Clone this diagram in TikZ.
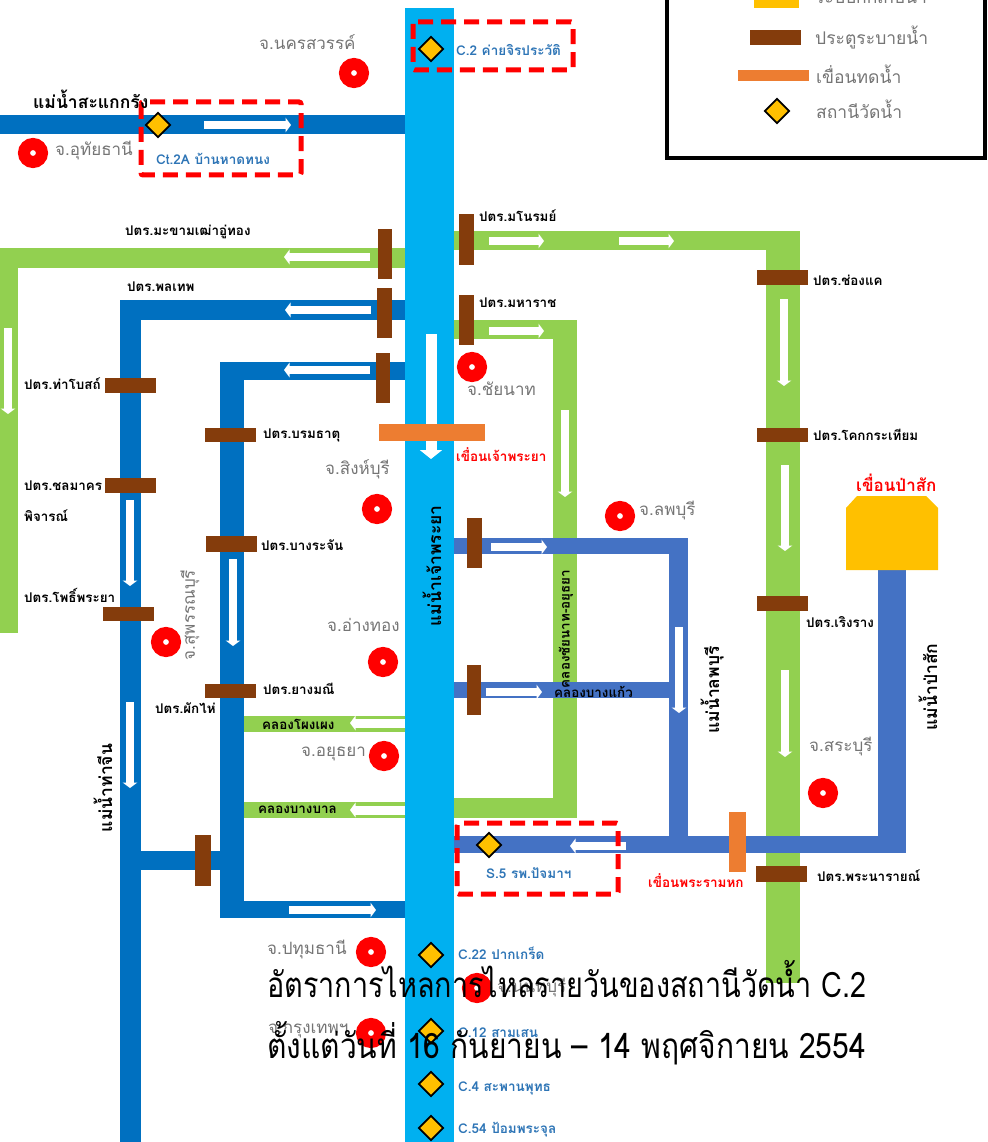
\documentclass[tikz,border=0pt]{standalone}
\usepackage{xcolor}
\usepackage{fontspec}
\usepackage{tikz}
\usetikzlibrary{arrows.meta,shapes.geometric}
\newfontfamily\thaifont[Script=Thai]{Loma}
\newfontfamily\thaititle[Script=Thai,FakeStretch=0.822]{Loma}
\newfontfamily\thaisubtitle[Script=Thai,FakeStretch=0.856]{Loma}
\definecolor{riverblue}{HTML}{00B0F0}
\definecolor{canalblue}{HTML}{0070C0}
\definecolor{lopburiblue}{HTML}{4472C4}
\definecolor{canalgreen}{HTML}{92D050}
\definecolor{gatebrown}{HTML}{843C0C}
\definecolor{damorange}{HTML}{ED7D31}
\definecolor{storeyellow}{HTML}{FFC000}
\definecolor{graymuted}{HTML}{757575}
\definecolor{stationblue}{HTML}{2E75B6}
\tikzset{every node/.append style={font=\thaifont,inner sep=0pt,anchor=west}}
\tikzset{
  flowarrow/.style={white,line width=7.5pt,-{Triangle[length=5.5pt,width=14.5pt]}},
  gatelabel/.style={black,font=\thaifont\bfseries\fontsize{13.4}{15}\selectfont},
  riverlabel/.style={black,font=\thaifont\bfseries\fontsize{17.5}{20}\selectfont},
  provincelabel/.style={graymuted,font=\thaifont\fontsize{17}{20}\selectfont},
  stationlabel/.style={stationblue,font=\thaifont\bfseries\fontsize{13.5}{15}\selectfont},
  damlabel/.style={red,font=\thaifont\bfseries\fontsize{13.5}{15}\selectfont},
  legendlabel/.style={graymuted,font=\thaifont\fontsize{17.5}{20}\selectfont},
  titlelabel/.style={black,anchor=base west,font=\thaititle\fontsize{35}{40}\selectfont},
  subtitlelabel/.style={black,anchor=base west,font=\thaisubtitle\fontsize{35}{40}\selectfont},
  stationmark/.style={diamond,draw=black,fill=storeyellow,line width=1.7pt,minimum size=25pt,anchor=center},
  provincedot/.style={circle,draw=red,line width=12pt,fill=white,minimum size=18pt,anchor=center},
  watchbox/.style={draw=red,line width=5pt,dash pattern=on 15pt off 8pt,rounded corners=2pt}
}

\begin{document}
\begin{tikzpicture}[x=1pt,y=-1pt,>=Stealth]
  \useasboundingbox (0,0) rectangle (987,1142);
  \clip (0,0) rectangle (987,1142);
  \fill[canalgreen] (0,248) rectangle (405,268);
  \fill[canalgreen] (0,248) rectangle (18,633);
  \fill[canalgreen] (454,231) rectangle (800,250);
  \fill[canalgreen] (766,231) rectangle (800,983);
  \fill[canalgreen] (454,320) rectangle (577,339);
  \fill[canalgreen] (553,320) rectangle (577,818);
  \fill[canalgreen] (454,798) rectangle (577,818);
  \fill[canalgreen] (244,716) rectangle (405,732);
  \fill[canalgreen] (244,802) rectangle (405,818);
  \fill[canalblue] (0,115) rectangle (405,134);
  \fill[canalblue] (120,300) rectangle (405,320);
  \fill[canalblue] (120,300) rectangle (141,1142);
  \fill[canalblue] (220,362) rectangle (405,380);
  \fill[canalblue] (220,362) rectangle (244,918);
  \fill[canalblue] (220,901) rectangle (405,918);
  \fill[canalblue] (141,851) rectangle (220,870);
  \fill[lopburiblue] (454,538) rectangle (688,554);
  \fill[lopburiblue] (669,538) rectangle (688,853);
  \fill[lopburiblue] (454,682) rectangle (669,698);
  \fill[lopburiblue] (454,836) rectangle (906,853);
  \fill[lopburiblue] (878,570) rectangle (906,853);
  \fill[riverblue] (405,8) rectangle (454,1142);
  \fill[storeyellow] (846,508)--(857,496)--(926,496)--(938,508)--(938,570)--(846,570)--cycle;

  \draw[flowarrow] (204,125)--(291,125);
  \draw[flowarrow] (370,257)--(284,257);
  \draw[flowarrow] (371,310)--(285,310);
  \draw[flowarrow] (370,370)--(284,370);
  \draw[flowarrow] (8,328)--(8,414);
  \draw[flowarrow,line width=11pt,-{Triangle[length=9pt,width=22pt]}] (431,334)--(431,459);
  \draw[flowarrow] (130,500)--(130,586);
  \draw[flowarrow] (233,559)--(233,646);
  \draw[flowarrow] (130,702)--(130,788);
  \draw[flowarrow,line width=9pt] (405,723)--(350,723);
  \draw[flowarrow,line width=9pt] (405,810)--(350,810);
  \draw[flowarrow] (289,910)--(376,910);
  \draw[flowarrow] (489,241)--(544,241);
  \draw[flowarrow] (619,241)--(674,241);
  \draw[flowarrow] (784,299)--(784,386);
  \draw[flowarrow] (489,331)--(544,331);
  \draw[flowarrow] (565,410)--(565,497);
  \draw[flowarrow] (785,465)--(785,551);
  \draw[flowarrow] (785,670)--(785,757);
  \draw[flowarrow] (491,547)--(547,547);
  \draw[flowarrow] (486,692)--(542,692);
  \draw[flowarrow] (679,627)--(679,713);
  \draw[flowarrow] (626,846)--(570,846);

  \fill[gatebrown] (378,229) rectangle (392,279);
  \fill[gatebrown] (377,288) rectangle (392,338);
  \fill[gatebrown] (376,353) rectangle (390,403);
  \fill[gatebrown] (459,214) rectangle (474,265);
  \fill[gatebrown] (459,295) rectangle (474,345);
  \fill[gatebrown] (105,378) rectangle (156,393);
  \fill[gatebrown] (105,478) rectangle (156,493);
  \fill[gatebrown] (103,607) rectangle (154,621);
  \fill[gatebrown] (205,428) rectangle (256,442);
  \fill[gatebrown] (206,536) rectangle (257,552);
  \fill[gatebrown] (205,684) rectangle (256,698);
  \fill[gatebrown] (195,835) rectangle (211,886);
  \fill[gatebrown] (757,270) rectangle (808,285);
  \fill[gatebrown] (757,428) rectangle (808,442);
  \fill[gatebrown] (757,596) rectangle (808,611);
  \fill[gatebrown] (756,866) rectangle (807,882);
  \fill[gatebrown] (467,518) rectangle (482,568);
  \fill[gatebrown] (467,665) rectangle (481,715);
  \fill[damorange] (379,424) rectangle (485,441);
  \fill[damorange] (729,812) rectangle (746,872);

  \node[provincedot] (dotNakhonSawan) at (354,73) {};
  \node[provincedot] (dotUthai) at (33,153) {};
  \node[provincedot] (dotChainat) at (472,367) {};
  \node[provincedot] (dotSingBuri) at (377,509) {};
  \node[provincedot] (dotSuphan) at (166,642) {};
  \node[provincedot] (dotAngThong) at (383,662) {};
  \node[provincedot] (dotAyutthaya) at (384,756) {};
  \node[provincedot] (dotLopburi) at (620,516) {};
  \node[provincedot] (dotSaraburi) at (823,793) {};
  \node[provincedot] (dotPathum) at (371,952) {};
  \node[provincedot] (dotNonthaburi) at (477,988) {};
  \node[provincedot] (dotBangkok) at (371,1033) {};

  \node[stationmark] (stnCtTwoA) at (158,125) {};
  \node[stationmark] (stnCTwo) at (431,49) {};
  \node[stationmark] (stnSFive) at (489,845) {};
  \node[stationmark] (stnCTwentyTwo) at (431,955) {};
  \node[stationmark] (stnCTwelve) at (431,1031) {};
  \node[stationmark] (stnCFour) at (431,1084) {};
  \node[stationmark] (stnCFiftyFour) at (431,1128) {};

  \draw[watchbox] (141,102) rectangle (301,175);
  \draw[watchbox] (413,22) rectangle (573,70);
  \draw[watchbox] (457,823) rectangle (618,894);

  \draw[black,line width=4pt] (667,-10) rectangle (985,158);
  \fill[storeyellow] (754,-10) rectangle (799,8);
  \fill[gatebrown] (750,30) rectangle (801,45);
  \fill[damorange] (738,70) rectangle (809,81);
  \node[stationmark] (legendStation) at (777,111) {};
  \node[legendlabel] (legendStore) at (815,-6) {ระบบกักเก็บน้ำ};
  \node[legendlabel] (legendGate) at (815,38) {ประตูระบายน้ำ};
  \node[legendlabel] (legendDam) at (816,74) {เขื่อนทดน้ำ};
  \node[legendlabel] (legendGauge) at (816,109) {สถานีวัดน้ำ};

  \node[riverlabel] (rvSakae) at (33,99) {แม่น้ำสะแกกรัง};
  \node[riverlabel,rotate=90,anchor=center] (rvChaoPhraya) at (432,566) {แม่น้ำเจ้าพระยา};
  \node[riverlabel,rotate=90,anchor=center] (rvThaChin) at (103,788) {แม่น้ำท่าจีน};
  \node[riverlabel,rotate=90,anchor=center] (rvLopburi) at (712,690) {แม่น้ำลพบุรี};
  \node[riverlabel,rotate=90,anchor=center] (rvPaSak) at (928,687) {แม่น้ำป่าสัก};

  \node[provincelabel] (lblNakhonSawan) at (259,42) {จ.นครสวรรค์};
  \node[provincelabel] (lblUthai) at (55,151) {จ.อุทัยธานี};
  \node[provincelabel] (lblChainat) at (467,389) {จ.ชัยนาท};
  \node[provincelabel] (lblSingBuri) at (325,469) {จ.สิงห์บุรี};
  \node[provincelabel,rotate=90,anchor=center] (lblSuphan) at (190,615) {จ.สุพรรณบุรี};
  \node[provincelabel] (lblAngThong) at (327,625) {จ.อ่างทอง};
  \node[provincelabel] (lblAyutthaya) at (301,754) {จ.อยุธยา};
  \node[provincelabel] (lblLopburi) at (639,511) {จ.ลพบุรี};
  \node[provincelabel] (lblSaraburi) at (809,747) {จ.สระบุรี};
  \node[provincelabel] (lblPathum) at (267,950) {จ.ปทุมธานี};
  \node[provincelabel] (lblNonthaburi) at (497,988) {จ.นนทบุรี};
  \node[provincelabel] (lblBangkok) at (268,1031) {จ.กรุงเทพฯ};

  \node[gatelabel] (gtMakham) at (125,232) {ปตร.มะขามเฒ่าอู่ทอง};
  \node[gatelabel] (gtPhonlathep) at (127,287) {ปตร.พลเทพ};
  \node[gatelabel] (gtThaBot) at (24,384) {ปตร.ท่าโบสถ์};
  \node[gatelabel] (gtChonlamak) at (24,486) {ปตร.ชลมาคร};
  \node[gatelabel] (gtPhijan) at (24,516) {พิจารณ์};
  \node[gatelabel] (gtPhoPhraya) at (24,595) {ปตร.โพธิ์พระยา};
  \node[gatelabel] (gtBorommathat) at (263,435) {ปตร.บรมธาตุ};
  \node[gatelabel] (gtBangRachan) at (261,545) {ปตร.บางระจัน};
  \node[gatelabel] (gtYangManee) at (263,689) {ปตร.ยางมณี};
  \node[gatelabel] (gtPhakHai) at (155,708) {ปตร.ผักไห่};
  \node[gatelabel] (gtManorom) at (479,216) {ปตร.มโนรมย์};
  \node[gatelabel] (gtMaharat) at (479,303) {ปตร.มหาราช};
  \node[gatelabel] (gtChongKhae) at (813,280) {ปตร.ช่องแค};
  \node[gatelabel] (gtKhok) at (813,435) {ปตร.โคกกระเทียม};
  \node[gatelabel] (gtRoengRang) at (806,622) {ปตร.เริงราง};
  \node[gatelabel] (gtNarai) at (817,876) {ปตร.พระนารายณ์};
  \node[gatelabel] (clPhongPheng) at (262,724) {คลองโผงเผง};
  \node[gatelabel] (clBangBan) at (258,810) {คลองบางบาล};
  \node[gatelabel] (clBangKaeo) at (554,692) {คลองบางแก้ว};
  \node[gatelabel,rotate=90,anchor=center] (clChainat) at (566,629) {คลองชัยนาท-อยุธยา};

  \node[damlabel] (dmChaoPhraya) at (456,455) {เขื่อนเจ้าพระยา};
  \node[damlabel,font=\thaifont\bfseries\fontsize{17}{20}\selectfont] (dmPaSak) at (856,483) {เขื่อนป่าสัก};
  \node[damlabel] (dmRama) at (648,881) {เขื่อนพระรามหก};

  \node[stationlabel] (nmCtTwoA) at (156,159) {Ct.2A บ้านหาดทนง};
  \node[stationlabel] (nmCTwo) at (456,50) {C.2 ค่ายจิรประวัติ};
  \node[stationlabel] (nmSFive) at (486,873) {S.5 รพ.ปัจมาฯ};
  \node[stationlabel] (nmCTwentyTwo) at (458,953) {C.22 ปากเกร็ด};
  \node[stationlabel] (nmCTwelve) at (458,1033) {C.12 สามเสน};
  \node[stationlabel] (nmCFour) at (458,1088) {C.4 สะพานพุทธ};
  \node[stationlabel] (nmCFiftyFour) at (458,1130) {C.54 ป้อมพระจุล};

  \node[titlelabel] (titleOne) at (267,997) {อัตราการไหลการไหลรายวันของสถานีวัดน้ำ C.2};
  \node[subtitlelabel] (titleTwo) at (267,1058) {ตั้งแต่วันที่ 16 กันยายน – 14 พฤศจิกายน 2554};
\end{tikzpicture}
\end{document}
